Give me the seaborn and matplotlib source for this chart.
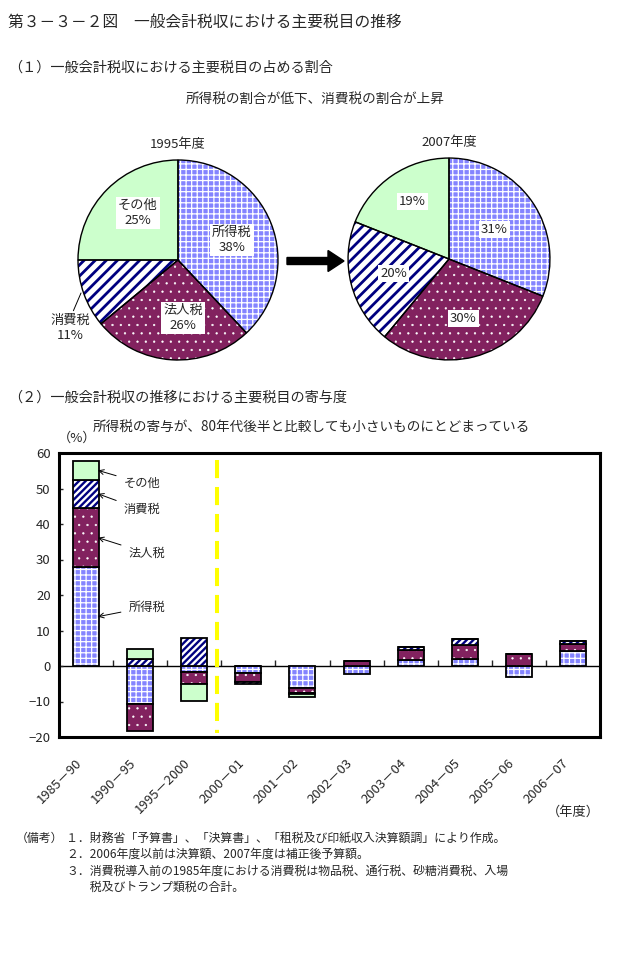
import numpy as np
import matplotlib
matplotlib.use('Agg')
import matplotlib.pyplot as plt
from matplotlib.patches import FancyArrow
from matplotlib.transforms import IdentityTransform, ScaledTranslation
import seaborn as sns

# (1) shares of the main taxes in general account tax revenue (%)
taxes = ['所得税', '法人税', '消費税', 'その他']
share_1995 = [38, 26, 11, 25]
share_2007 = [31, 30, 20, 19]

# (2) contribution of each tax to the change in tax revenue (% points)
periods = ['1985－90', '1990－95', '1995－2000', '2000－01', '2001－02',
           '2002－03', '2003－04', '2004－05', '2005－06', '2006－07']
income_tax = [27.8, -10.8, -1.6, -1.9, -6.3, -2.2, 1.6, 2.0, -3.2, 4.1]
corp_tax = [16.7, -7.5, -3.6, -2.7, -1.4, 1.3, 3.0, 4.0, 3.4, 2.1]
consumption_tax = [8.0, 2.1, 7.8, -0.6, -0.3, 0.0, 0.7, 1.5, 0.0, 0.8]
other_tax = [5.2, 2.6, -4.7, 0.0, -0.6, 0.0, 0.0, 0.0, 0.0, 0.0]

notes = [
    ('（備考）', '１．財務省「予算書」、「決算書」、「租税及び印紙収入決算額調」により作成。'),
    ('', '２．2006年度以前は決算額、2007年度は補正後予算額。'),
    ('', '３．消費税導入前の1985年度における消費税は物品税、通行税、砂糖消費税、入場'),
    ('', '　　税及びトランプ類税の合計。'),
]

# fill / hatch look for each tax
styles = {
    '所得税': dict(face='#8484ff', hc='white', hatch_pie='+++', hatch_bar='+++', hlw=0.9),
    '法人税': dict(face='#82225f', hc='white', hatch_pie='..', hatch_bar='..', hlw=0.4),
    '消費税': dict(face='white', hc='#000080', hatch_pie='///', hatch_bar='/////', hlw=1.7),
    'その他': dict(face='#ccffcc', hc='#ccffcc', hatch_pie='', hatch_bar='', hlw=1.0),
}

sns.set_theme(style='white')
plt.rcParams['font.family'] = ['Noto Sans CJK JP', 'DejaVu Sans']

W, H = 627, 956
fig = plt.figure(figsize=(W / 100, H / 100), dpi=100)


def fx(px):
    return px / W


def fy(py):
    return 1 - py / H


def style_patch(p, st, hatch, hlw=None):
    p.set_hatch(hatch)
    p.set_edgecolor(st['hc'])
    p.set_linewidth(0)
    if hasattr(p, 'set_hatch_linewidth'):
        p.set_hatch_linewidth(hlw if hlw is not None else st['hlw'])


fig.text(fx(8), fy(22), '第３－３－２図　一般会計税収における主要税目の推移', fontsize=11.3, va='center')
fig.text(fx(8), fy(68), '（１）一般会計税収における主要税目の占める割合', fontsize=10.2, va='center')
fig.text(fx(315), fy(100), '所得税の割合が低下、消費税の割合が上昇', fontsize=9.8, ha='center', va='center')


def draw_pie(ax, shares, title, label_pos, with_names):
    wedges, _ = ax.pie(shares, startangle=90, counterclock=False,
                       colors=[styles[t]['face'] for t in taxes])
    for w, t in zip(wedges, taxes):
        lw = 2.0 if t == '消費税' else None
        style_patch(w, styles[t], styles[t]['hatch_pie'], lw)
    ax.pie(shares, startangle=90, counterclock=False,
           wedgeprops=dict(fill=False, edgecolor='black', linewidth=1))
    ax.set_xlim(-1.05, 1.05)
    ax.set_ylim(-1.05, 1.05)
    ax.set_title(title, fontsize=9.5, pad=5)
    for t, s, (px, py) in zip(taxes, shares, label_pos):
        txt = f'{t}\n{s}%' if with_names else f'{s}%'
        if with_names and t == '消費税':
            ax.annotate(txt, xy=(-0.97, -0.33), xytext=(px, py), ha='center', va='center',
                        fontsize=9.5, linespacing=1.2,
                        arrowprops=dict(arrowstyle='-', lw=0.7, color='black',
                                        shrinkA=0, shrinkB=0, relpos=(0.55, 1.0)))
        else:
            ax.text(px, py, txt, ha='center', va='center', fontsize=9.5, linespacing=1.2,
                    bbox=dict(facecolor='white', edgecolor='none', pad=1.5))


ax1 = fig.add_axes([fx(178 - 105), fy(260 + 105), 210 / W, 210 / H])
draw_pie(ax1, share_1995, '1995年度',
         [(0.54, 0.2), (0.05, -0.58), (-1.08, -0.68), (-0.4, 0.47)], True)
ax2 = fig.add_axes([fx(449 - 106), fy(259 + 106), 212 / W, 212 / H])
draw_pie(ax2, share_2007, '2007年度',
         [(0.45, 0.29), (0.14, -0.59), (-0.55, -0.14), (-0.36, 0.57)], False)

# arrow between the two pies
fig.add_artist(FancyArrow(287, H - 261, 57, 0, width=7, head_width=21, head_length=16,
                          length_includes_head=True, color='black',
                          transform=IdentityTransform()))

fig.text(fx(8), fy(398), '（２）一般会計税収の推移における主要税目の寄与度', fontsize=10.2, va='center')
fig.text(fx(311), fy(428), '所得税の寄与が、80年代後半と比較しても小さいものにとどまっている',
         fontsize=9.8, ha='center', va='center')

# stacked contribution bars
ax3 = fig.add_axes([fx(59), fy(737), 541 / W, 284 / H])
series = {'所得税': income_tax, '法人税': corp_tax, '消費税': consumption_tax, 'その他': other_tax}
pos_base = np.zeros(len(periods))
neg_base = np.zeros(len(periods))
mids = {}
for name, vals in series.items():
    v = np.array(vals)
    base = np.where(v >= 0, pos_base, neg_base)
    st = styles[name]
    n0 = len(ax3.patches)
    sns.barplot(x=periods, y=v, bottom=base, color=st['face'], saturation=1, width=0.48,
                errorbar=None, ax=ax3)
    for p in ax3.patches[n0:]:
        style_patch(p, st, st['hatch_bar'])
    sns.barplot(x=periods, y=v, bottom=base, color='black', fill=False, edgecolor='black',
                linewidth=1.3, width=0.48, errorbar=None, ax=ax3)
    mids[name] = base[0] + v[0] / 2
    pos_base += np.clip(v, 0, None)
    neg_base += np.clip(v, None, 0)

ax3.set_xlim(-0.5, len(periods) - 0.5)
ax3.set_ylim(-20, 60)
ax3.set_yticks(range(-20, 61, 10))
ax3.set_xlabel('')
ax3.set_ylabel('')
ax3.tick_params(axis='y', direction='in', length=3, width=1, left=True, labelsize=9.5, pad=6)
ax3.tick_params(axis='x', length=0, pad=14, labelsize=9.5)
shift = ScaledTranslation(-11 / 100, 0, fig.dpi_scale_trans)
for lab in ax3.get_xticklabels():
    lab.set_rotation(45)
    lab.set_ha('right')
    lab.set_rotation_mode('anchor')
    lab.set_transform(lab.get_transform() + shift)
for sp in ax3.spines.values():
    sp.set_linewidth(2.2)
    sp.set_color('black')

zero = ax3.secondary_xaxis(0.25)
zero.set_xticks(np.arange(0.5, len(periods) - 1, 1))
zero.tick_params(direction='in', length=4, width=1, labelbottom=False, labeltop=False)
for sp in zero.spines.values():
    sp.set_linewidth(1)
    sp.set_color('black')

divider_x = 2.42
ax3.plot([divider_x, divider_x], [58, -19], color='#ffff00', lw=2.9, dashes=(4.5, 2.2))

label_xy = {'その他': (1.03, 51.5), '消費税': (1.03, 44.0), '法人税': (1.12, 31.8), '所得税': (1.12, 16.6)}
for name, (tx, ty) in label_xy.items():
    ax3.annotate(name, xy=(0.22, mids[name]), xytext=(tx, ty), ha='center', va='center',
                 fontsize=8.8,
                 arrowprops=dict(arrowstyle='->', lw=0.7, color='black', shrinkA=3, shrinkB=0))

fig.text(fx(58), fy(438), '（%）', fontsize=9.5, va='center')
fig.text(fx(600), fy(812), '（年度）', fontsize=9.5, ha='right', va='center')

for i, (head, body) in enumerate(notes):
    y = fy(838 + i * 16.5)
    if head:
        fig.text(fx(16), y, head, fontsize=8.6, va='center')
    fig.text(fx(66), y, body, fontsize=8.6, va='center')

fig.savefig('out.png', dpi=100)
